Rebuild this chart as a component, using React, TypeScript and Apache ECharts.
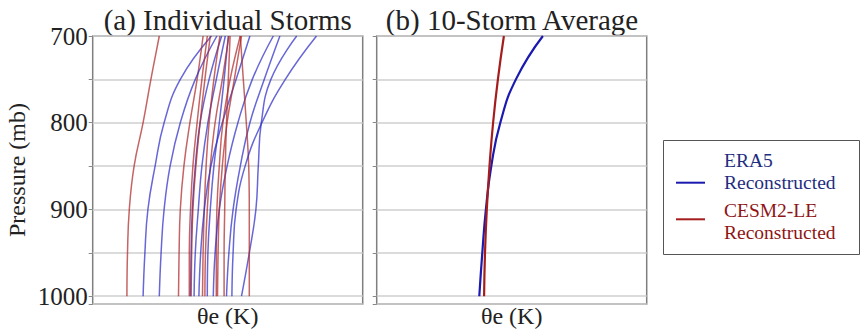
import React, { useEffect, useRef } from "react";
import * as echarts from "echarts";

// Pressure levels (mb)
const levels = [700, 750, 800, 850, 900, 950, 1000];

// θe (K) of each individual storm at the pressure levels above
const era5Storms: number[][] = [
  [349.8, 344.6, 341.9, 340.4, 339.2, 338.7, 338.4],
  [350.7, 347.1, 344.6, 342.9, 341.9, 341.4, 341.1],
  [351.5, 349.4, 347.9, 347.1, 346.6, 346.4, 346.3],
  [352.1, 350.6, 349.2, 348.2, 347.6, 347.1, 346.9],
  [352.6, 351.9, 351.1, 350.2, 349.6, 349.2, 349.1],
  [356.2, 353.9, 351.6, 349.7, 348.6, 348.0, 347.7],
  [360.1, 356.6, 354.2, 352.4, 351.1, 350.4, 350.1],
  [361.2, 358.6, 356.2, 354.6, 353.4, 352.7, 352.3],
  [364.0, 359.7, 358.1, 357.6, 357.2, 356.1, 354.8],
  [367.3, 362.1, 358.2, 355.4, 353.9, 353.4, 353.2],
];

const cesmStorms: number[][] = [
  [341.1, 339.7, 338.4, 336.9, 336.1, 335.8, 335.7],
  [348.4, 347.4, 346.2, 345.2, 344.6, 344.4, 344.3],
  [349.1, 348.2, 347.4, 346.7, 346.3, 346.1, 346.1],
  [349.6, 348.7, 347.9, 347.2, 346.7, 346.5, 346.4],
  [351.2, 350.2, 349.4, 348.9, 348.6, 348.4, 348.3],
  [352.7, 351.6, 350.4, 349.6, 349.1, 348.8, 348.7],
  [354.6, 352.9, 351.7, 351.1, 350.7, 350.6, 350.6],
  [354.8, 353.6, 352.4, 351.6, 351.1, 350.9, 350.8],
  [352.9, 352.6, 352.3, 352.1, 352.0, 351.9, 351.9],
  [354.6, 355.1, 355.6, 356.0, 356.1, 356.1, 356.1],
];

// 10-storm averages
const era5Avg = [357.7, 353.2, 350.6, 349.1, 348.2, 347.6, 347.1];
const cesmAvg = [351.2, 350.2, 349.4, 348.8, 348.35, 348.05, 347.9];

const panelTitles = ["(a) Individual Storms", "(b) 10-Storm Average"];
const legendNames = [["ERA5", "Reconstructed"], ["CESM2-LE", "Reconstructed"]];

const FONT = "'Liberation Serif', 'DejaVu Serif', serif";
const BLUE_THIN = "rgba(45,45,200,0.72)";
const RED_THIN = "rgba(175,40,40,0.72)";
const BLUE_AVG = "#1a1ab0";
const RED_AVG = "#a51c1c";

const toData = (vals: number[]) => levels.map((p, i) => [vals[i], p]);

export default function App() {
  const ref = useRef<HTMLDivElement>(null);
  useEffect(() => {
    if (!ref.current) return;
    const chart = echarts.init(ref.current, undefined, { renderer: "svg" });

    const gridBase = {
      top: 36,
      width: 270,
      height: 268,
      show: true,
      borderColor: "#7f7f7f",
      borderWidth: 1.5,
      backgroundColor: "#fff",
      outerBoundsMode: "none",
      containLabel: false,
    };

    const xAxisBase = (gi: number) => ({
      type: "value" as const,
      gridIndex: gi,
      min: 330,
      max: 375,
      axisLabel: { show: false },
      axisTick: { show: false },
      axisLine: { show: false },
      splitLine: { show: false },
      name: "θe (K)",
      nameLocation: "middle" as const,
      nameGap: 0,
      nameTextStyle: { fontFamily: FONT, fontSize: 24, color: "#222" },
    });

    const yAxisBase = (gi: number) => ({
      type: "value" as const,
      gridIndex: gi,
      inverse: true,
      min: 700,
      max: 1009,
      interval: 50,
      axisLine: { show: false },
      axisTick: { show: true, length: 4, lineStyle: { color: "#888", width: 1 } },
      splitLine: { show: true, lineStyle: { color: "#cfcfcf", width: 1.5 } },
      axisLabel: {
        show: gi === 0,
        margin: 5,
        fontFamily: FONT,
        fontSize: 25,
        color: "#222",
        formatter: (v: number) => (v % 100 === 0 ? String(v) : ""),
      },
      name: gi === 0 ? "Pressure (mb)" : "",
      nameLocation: "middle" as const,
      nameGap: 64,
      nameTextStyle: { fontFamily: FONT, fontSize: 24, color: "#222" },
    });

    const series: any[] = [];
    for (let i = 0; i < 10; i++) {
      series.push({
        type: "line",
        xAxisIndex: 0,
        yAxisIndex: 0,
        data: toData(cesmStorms[i]),
        smooth: 0.45,
        symbol: "none",
        lineStyle: { color: RED_THIN, width: 1.5 },
        z: 3,
      });
      series.push({
        type: "line",
        xAxisIndex: 0,
        yAxisIndex: 0,
        data: toData(era5Storms[i]),
        smooth: 0.45,
        symbol: "none",
        lineStyle: { color: BLUE_THIN, width: 1.5 },
        z: 3,
      });
    }
    series.push({
      type: "line",
      xAxisIndex: 1,
      yAxisIndex: 1,
      data: toData(era5Avg),
      smooth: 0.5,
      symbol: "none",
      lineStyle: { color: BLUE_AVG, width: 2.2 },
      z: 3,
    });
    series.push({
      type: "line",
      xAxisIndex: 1,
      yAxisIndex: 1,
      data: toData(cesmAvg),
      smooth: 0.5,
      symbol: "none",
      lineStyle: { color: RED_AVG, width: 2.2 },
      z: 4,
    });

    const legendColors = ["#1f2d80", "#8e1515"];
    const legendLine = [BLUE_AVG, RED_AVG];
    const lineY = [182.7, 219.3];
    const textY = [171.3, 221.8];
    const graphic: any[] = [
      {
        type: "rect",
        shape: { x: 663.5, y: 140.5, width: 196, height: 114 },
        style: { fill: "#fff", stroke: "#555", lineWidth: 1 },
      },
    ];
    legendNames.forEach((lines, k) => {
      graphic.push({
        type: "line",
        shape: { x1: 676, y1: lineY[k], x2: 705, y2: lineY[k] },
        style: { stroke: legendLine[k], lineWidth: 2 },
      });
      graphic.push({
        type: "text",
        x: 724,
        y: textY[k],
        style: {
          text: lines.join("\n"),
          fontFamily: FONT,
          fontSize: 19.5,
          lineHeight: 22,
          fill: legendColors[k],
          verticalAlign: "middle",
        },
      });
    });
    panelTitles.forEach((t, k) => {
      graphic.push({
        type: "text",
        x: k === 0 ? 227.7 : 512,
        y: 20,
        style: {
          text: t,
          fontFamily: FONT,
          fontSize: 29,
          fill: "#222",
          align: "center",
          verticalAlign: "middle",
        },
      });
    });

    chart.setOption({
      animation: false,
      backgroundColor: "#fff",
      grid: [
        { ...gridBase, left: 92.7 },
        { ...gridBase, left: 376.7 },
      ],
      xAxis: [xAxisBase(0), xAxisBase(1)],
      yAxis: [yAxisBase(0), yAxisBase(1)],
      series,
      graphic,
    });
    return () => chart.dispose();
  }, []);

  return (
    <div
      ref={ref}
      style={{ position: "absolute", left: 0, top: 0, width: 861, height: 332 }}
    />
  );
}
